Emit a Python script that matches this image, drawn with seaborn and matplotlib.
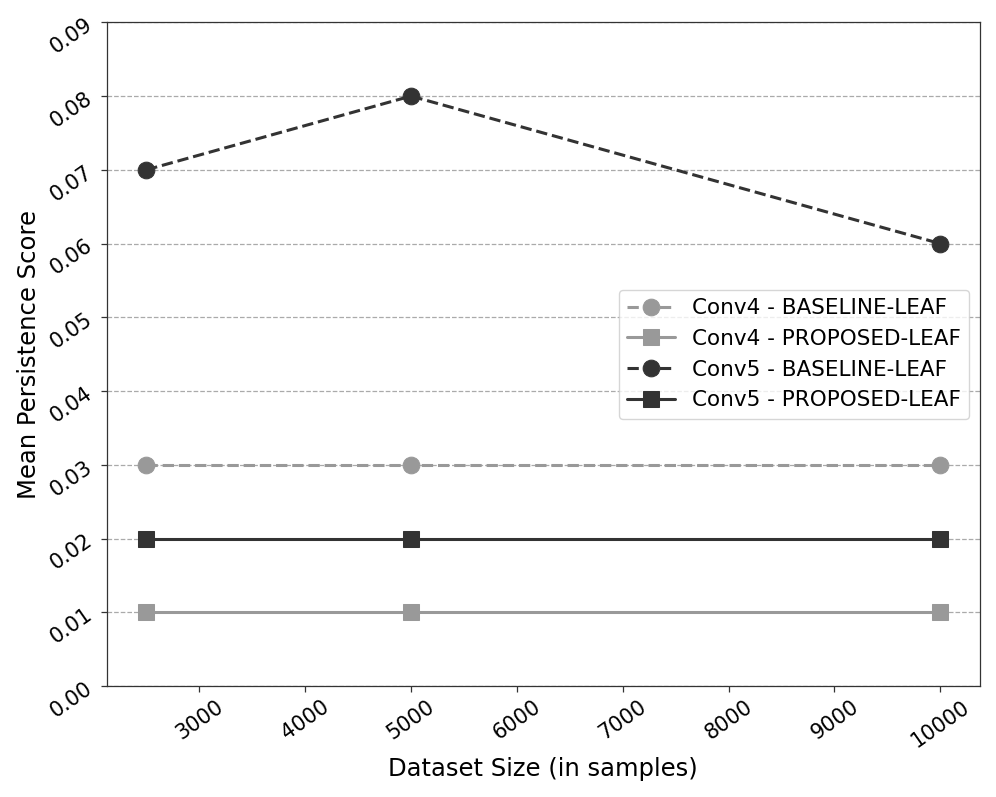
import matplotlib
matplotlib.use("Agg")
import matplotlib.pyplot as plt
import seaborn as sns
import pandas as pd

sizes = [2500, 5000, 10000]
conv4_baseline = [0.03, 0.03, 0.03]
conv4_proposed = [0.01, 0.01, 0.01]
conv5_baseline = [0.07, 0.08, 0.06]
conv5_proposed = [0.02, 0.02, 0.02]
labels = ["Conv4 - BASELINE-LEAF", "Conv4 - PROPOSED-LEAF",
          "Conv5 - BASELINE-LEAF", "Conv5 - PROPOSED-LEAF"]

sns.set_style("white")
plt.rcParams['font.family'] = ['DejaVu Sans']
plt.rcParams['text.color'] = 'black'
plt.rcParams['axes.labelcolor'] = 'black'

fig = plt.figure(figsize=(9.96, 7.97), dpi=100)
ax = fig.add_axes([0.107, 0.139, 0.877, 0.833])

series = [conv4_baseline, conv4_proposed, conv5_baseline, conv5_proposed]
colors = ["#999999", "#999999", "#333333", "#333333"]
styles = ["--", "-", "--", "-"]
markers = ["o", "s", "o", "s"]

for vals, lab, c, ls, m in zip(series, labels, colors, styles, markers):
    df = pd.DataFrame({"x": sizes, "y": vals})
    sns.lineplot(data=df, x="x", y="y", ax=ax, color=c, linestyle=ls, marker=m,
                 markersize=12, linewidth=2.2, label=lab, markeredgecolor=c)

ax.set_ylim(0, 0.09)
ax.set_yticks([i * 0.01 for i in range(10)])
ax.set_yticklabels([f"{i*0.01:.2f}" for i in range(10)])
ax.set_xticks(range(3000, 10001, 1000))
ax.set_xlim(2125, 10375)
ax.yaxis.grid(True, linestyle="--", color="#aaaaaa", linewidth=0.9)
ax.set_axisbelow(True)
for s in ax.spines.values():
    s.set_color("#333333")
    s.set_linewidth(0.9)
ax.tick_params(axis="both", which="major", labelsize=15, direction="out",
               length=4, width=0.9, bottom=True, left=True, color="#333333",
               labelcolor="black")
plt.setp(ax.get_xticklabels(), rotation=35)
plt.setp(ax.get_yticklabels(), rotation=35)
ax.set_xlabel("Dataset Size (in samples)", fontsize=17.5, color="black")
ax.set_ylabel("Mean Persistence Score", fontsize=17.5, color="black")

leg = ax.legend(loc="center right", bbox_to_anchor=(1.0, 0.5), fontsize=15.5,
                frameon=True, handlelength=2.2, borderaxespad=0.5)
leg.get_frame().set_edgecolor("#cccccc")
for t in leg.get_texts():
    t.set_color("black")

fig.savefig("out.png", dpi=100)
